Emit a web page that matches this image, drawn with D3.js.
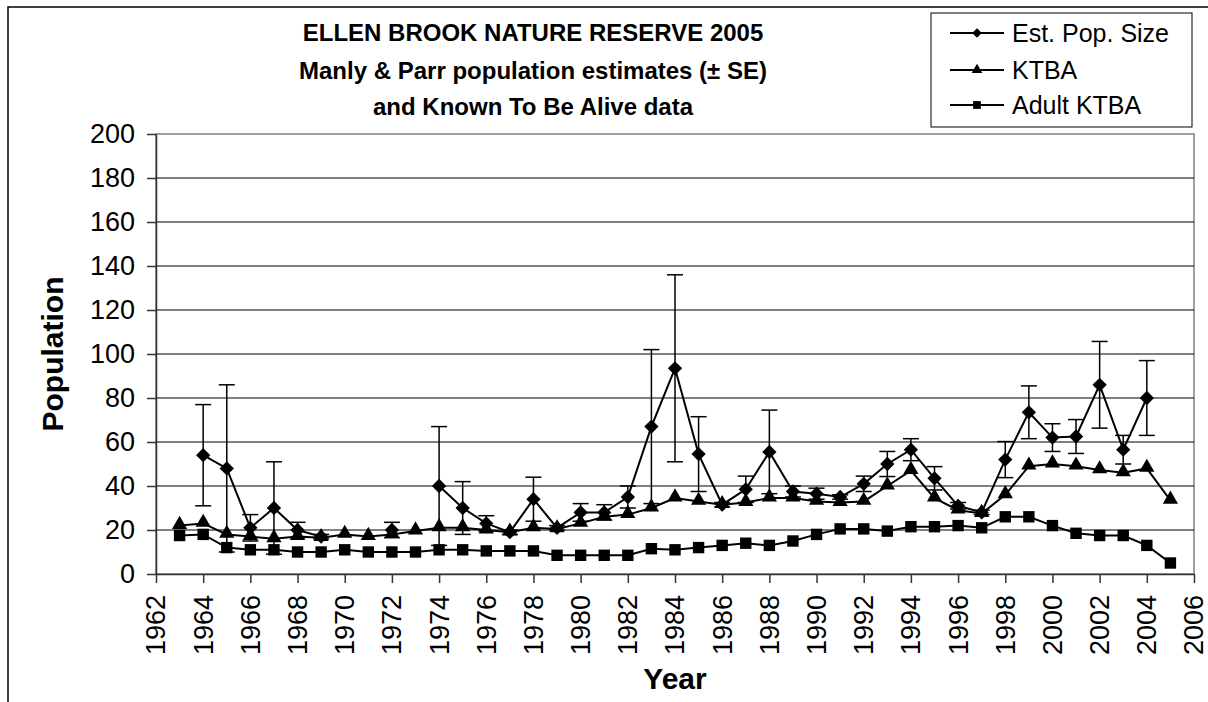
<!DOCTYPE html>
<html>
<head>
<meta charset="utf-8">
<script src="https://cdn.jsdelivr.net/npm/d3@7"></script>
<style>
  body { margin: 0; background: #fff; }
  svg { display: block; font-family: "Liberation Sans", Arial, sans-serif; }
</style>
</head>
<body>
<div id="chart"></div>
<script>
// Survey years
const years = d3.range(1963, 2006);

// Est. Pop. Size (Manly & Parr), null where no estimate
const estPop = [null, 54, 48, 21, 30, 20, 17, null, null, 20, null, 40, 30, 23, 19, 34, 21, 28, 28, 35,
  67, 93.5, 54.5, 31.5, 38.5, 55.5, 37.5, 36.5, 35, 41, 50, 56.5, 43.5, 31, 28, 52, 73.5, 62, 62.5, 86,
  56.5, 80, null];
// standard errors for the estimates
const estSE = [null, 23, 38, 6, 21, 3.5, 1, null, null, 3.5, null, 27, 12, 3.5, 1, 10, 1, 4, 3.5, 5,
  35, 42.5, 17, 1, 6, 19, 2.5, 2.5, 1, 3.5, 5.7, 5, 5.3, 1.5, 1, 8.2, 12, 6.3, 7.7, 19.7,
  6.5, 17, null];
// Known To Be Alive
const ktba = [22, 23, 18, 17, 16, 17, 16.5, 18, 17, 18, 19.5, 21, 21, 20, 19, 21, 20.5, 23, 26, 27,
  30, 34.5, 33, 31.5, 32.5, 34.5, 34.5, 33, 32.5, 33, 40, 47, 34.5, 29, 27.5, 36, 49, 50, 49, 47.3,
  46, 48, 33.5];
// Adult KTBA
const adultKtba = [17.5, 18, 12, 11, 11, 10, 10, 11, 10, 10, 10, 11, 11, 10.5, 10.5, 10.5, 8.5, 8.5, 8.5, 8.5,
  11.5, 11, 12, 13, 14, 13, 15, 18, 20.5, 20.5, 19.5, 21.5, 21.5, 22, 21, 26, 26, 22, 18.5, 17.5,
  17.5, 13, 5];

const titleLines = ["ELLEN BROOK NATURE RESERVE 2005", "Manly & Parr population estimates (\u00b1 SE)", "and Known To Be Alive data"];
const legendNames = ["Est. Pop. Size", "KTBA", "Adult KTBA"];
const yTicks = d3.range(0, 201, 20);
const xTicks = d3.range(1962, 2007, 2);

const W = 1208, H = 702;
const plot = { left: 156, right: 1194, top: 134, bottom: 574 };

const svg = d3.select("#chart").append("svg")
  .attr("width", W)
  .attr("height", H);

svg.append("rect").attr("width", W).attr("height", H).attr("fill", "#fff");

// outer chart frame (runs off the right and bottom of the picture)
svg.append("rect")
  .attr("x", 8).attr("y", 7)
  .attr("width", W + 20).attr("height", H + 20)
  .attr("fill", "none")
  .attr("stroke", "#000")
  .attr("stroke-width", 1.5);

const x = d3.scaleLinear().domain([1962, 2006]).range([plot.left, plot.right]);
const y = d3.scaleLinear().domain([0, 200]).range([plot.bottom, plot.top]);

// plot area border
svg.append("rect")
  .attr("x", plot.left).attr("y", plot.top)
  .attr("width", plot.right - plot.left).attr("height", plot.bottom - plot.top)
  .attr("fill", "none")
  .attr("stroke", "#808080")
  .attr("stroke-width", 1.5);

// gridlines
svg.append("g")
  .selectAll("line")
  .data(yTicks.filter(d => d > 0 && d < 200))
  .join("line")
  .attr("x1", plot.left).attr("x2", plot.right)
  .attr("y1", d => y(d)).attr("y2", d => y(d))
  .attr("stroke", "#000")
  .attr("stroke-width", 1);

// y axis
const yAxis = svg.append("g")
  .attr("transform", `translate(${plot.left},0)`)
  .call(d3.axisLeft(y).tickValues(yTicks).tickSize(9).tickSizeOuter(0).tickPadding(12));
yAxis.selectAll("text")
  .style("font-size", "27px")
  .attr("fill", "#000");

// x axis
const xAxis = svg.append("g")
  .attr("transform", `translate(0,${plot.bottom})`)
  .call(d3.axisBottom(x).tickValues(xTicks).tickFormat(d3.format("d")).tickSize(9).tickSizeOuter(0));
xAxis.selectAll("text")
  .style("font-size", "27px")
  .attr("fill", "#000")
  .attr("text-anchor", "end")
  .attr("transform", "translate(0,21) rotate(-90)")
  .attr("x", 0)
  .attr("y", 0)
  .attr("dy", "0.33em");

[yAxis, xAxis].forEach(a => {
  a.select(".domain").attr("stroke", "#333").attr("stroke-width", 1.5);
  a.selectAll(".tick line").attr("stroke", "#333").attr("stroke-width", 1.5);
});

// axis titles
svg.append("text")
  .attr("x", (plot.left + plot.right) / 2)
  .attr("y", 689)
  .attr("text-anchor", "middle")
  .style("font-size", "30px")
  .style("font-weight", "bold")
  .text("Year");

svg.append("text")
  .attr("transform", `translate(63,${(plot.top + plot.bottom) / 2}) rotate(-90)`)
  .attr("text-anchor", "middle")
  .style("font-size", "30px")
  .style("font-weight", "bold")
  .text("Population");

// title
svg.append("g")
  .selectAll("text")
  .data(titleLines)
  .join("text")
  .attr("x", 533)
  .attr("y", (d, i) => [41, 79, 115][i])
  .attr("text-anchor", "middle")
  .style("font-size", "24px")
  .style("font-weight", "bold")
  .text(d => d);

// marker shapes
const diamond = d3.symbol().type(d3.symbolDiamond2).size(130);
const triangle = d3.symbol().type(d3.symbolTriangle).size(100);
const square = d3.symbol().type(d3.symbolSquare).size(130);

const estData = years.map((yr, i) => ({ year: yr, value: estPop[i], se: estSE[i] }));
const ktbaData = years.map((yr, i) => ({ year: yr, value: ktba[i] }));
const adultData = years.map((yr, i) => ({ year: yr, value: adultKtba[i] }));

const line = d3.line()
  .defined(d => d.value != null)
  .x(d => x(d.year))
  .y(d => y(d.value));

// error bars for the estimates
const errG = svg.append("g").attr("stroke", "#000").attr("stroke-width", 1.5);
const withSE = estData.filter(d => d.value != null);
errG.selectAll("line.v").data(withSE).join("line")
  .attr("class", "v")
  .attr("x1", d => x(d.year)).attr("x2", d => x(d.year))
  .attr("y1", d => y(d.value - d.se)).attr("y2", d => y(d.value + d.se));
errG.selectAll("line.top").data(withSE).join("line")
  .attr("class", "top")
  .attr("x1", d => x(d.year) - 8).attr("x2", d => x(d.year) + 8)
  .attr("y1", d => y(d.value + d.se)).attr("y2", d => y(d.value + d.se));
errG.selectAll("line.bot").data(withSE).join("line")
  .attr("class", "bot")
  .attr("x1", d => x(d.year) - 8).attr("x2", d => x(d.year) + 8)
  .attr("y1", d => y(d.value - d.se)).attr("y2", d => y(d.value - d.se));

const series = [
  { data: adultData, sym: square, dy: 0 },
  { data: ktbaData, sym: triangle, dy: -1 },
  { data: estData, sym: diamond, dy: 0 }
];

series.forEach(s => {
  svg.append("path")
    .datum(s.data)
    .attr("d", line)
    .attr("fill", "none")
    .attr("stroke", "#000")
    .attr("stroke-width", 2);
  svg.append("g")
    .selectAll("path")
    .data(s.data.filter(d => d.value != null))
    .join("path")
    .attr("transform", d => `translate(${x(d.year)},${y(d.value) + s.dy})`)
    .attr("d", s.sym)
    .attr("fill", "#000");
});

// legend
const legend = svg.append("g");
legend.append("rect")
  .attr("x", 931).attr("y", 13)
  .attr("width", 261).attr("height", 114)
  .attr("fill", "#fff")
  .attr("stroke", "#000")
  .attr("stroke-width", 1);

const legendSyms = [
  d3.symbol().type(d3.symbolDiamond2).size(60),
  d3.symbol().type(d3.symbolTriangle).size(50),
  d3.symbol().type(d3.symbolSquare).size(60)
];
const legendY = [33, 70, 105];

legendNames.forEach((name, i) => {
  const ly = legendY[i];
  legend.append("line")
    .attr("x1", 950).attr("x2", 1004)
    .attr("y1", ly).attr("y2", ly)
    .attr("stroke", "#000").attr("stroke-width", 2);
  legend.append("path")
    .attr("transform", `translate(977,${ly})`)
    .attr("d", legendSyms[i])
    .attr("fill", "#000");
  legend.append("text")
    .attr("x", 1012)
    .attr("y", ly)
    .attr("dy", "0.35em")
    .style("font-size", "25px")
    .text(name);
});
</script>
</body>
</html>
